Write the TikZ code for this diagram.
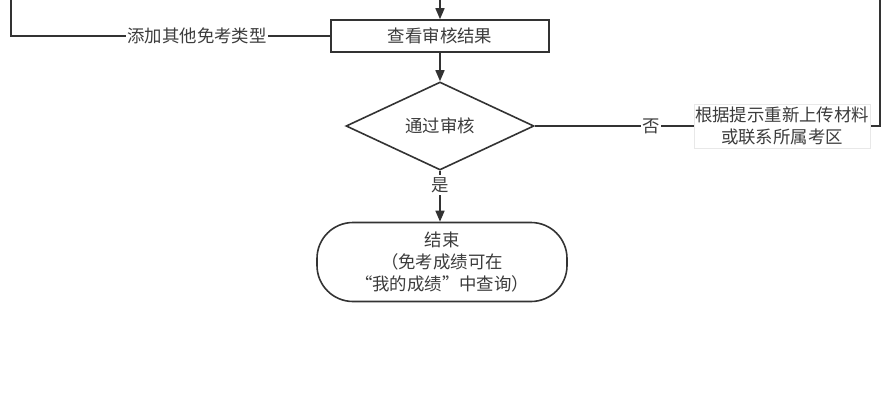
\documentclass[tikz,border=0pt]{standalone}
\usepackage{fontspec}
\newfontfamily\cjk{Noto Sans CJK SC}
\usetikzlibrary{shapes.geometric,arrows.meta}
\definecolor{linec}{HTML}{333333}
\definecolor{textc}{HTML}{3c3c3c}
\begin{document}
\begin{tikzpicture}[x=1pt,y=-1pt,
  every node/.style={font=\cjk\fontsize{17.4}{22}\selectfont, text=textc},
  conn/.style={draw=linec, line width=1.6pt},
  arr/.style={conn, -{Triangle[length=11pt,width=9pt]}},
  procbox/.style={draw=linec, line width=1.6pt, minimum width=218pt, minimum height=32pt, inner sep=0pt},
  decide/.style={diamond, draw=linec, line width=1.6pt, aspect=2, minimum width=188pt, minimum height=88pt, inner sep=0pt},
  term/.style={draw=linec, line width=1.6pt, rounded corners=36pt, minimum width=250pt, minimum height=79pt, inner sep=0pt, align=center},
  lab/.style={fill=white, inner xsep=1pt, inner ysep=2pt},
  labbox/.style={fill=white, draw=gray!18, line width=0.6pt, inner xsep=1pt, inner ysep=3pt, align=center}
]
\useasboundingbox (0,0) rectangle (891,420);
\fill[white] (0,0) rectangle (891,420);

\coordinate (topin) at (440,0);
\coordinate (leftup) at (11,0);
\coordinate (leftcorner) at (11,36);
\coordinate (rightup) at (880,0);
\coordinate (rightcorner) at (880,126);

\node[procbox] (check) at (440,36) {查看审核结果};
\node[decide] (pass) at (440,126) {通过审核};
\node[term] (end) at (442,262) {结束\\（免考成绩可在\\“我的成绩”中查询）};

\draw[arr] (topin) -- (check.north);
\draw[arr] (check.south) -- (pass.north);
\draw[arr] (pass.south) -- (pass.south |- end.north);

\draw[conn] (check.west) -- (leftcorner) -- (leftup);
\draw[conn] (pass.east) -- (rightcorner) -- (rightup);

\node[lab] (addlab) at (197,36) {添加其他免考类型};
\node[lab] (nolab) at (651,126) {否};
\node[labbox] (retry) at (782,126) {根据提示重新上传材料\\或联系所属考区};
\node[lab] (yeslab) at (440,185) {是};
\end{tikzpicture}
\end{document}
